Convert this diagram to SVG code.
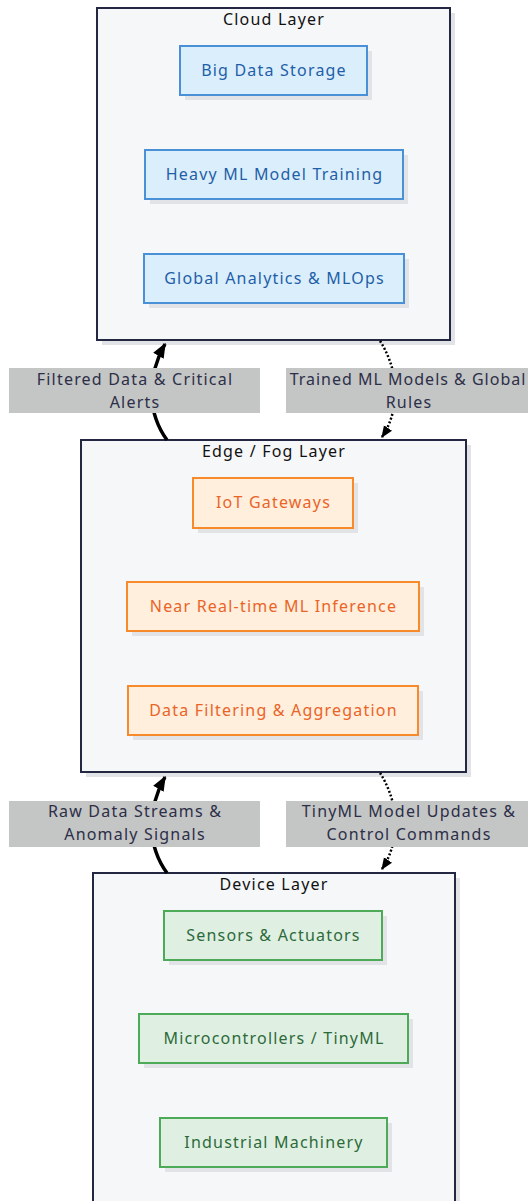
<svg xmlns="http://www.w3.org/2000/svg" width="528" height="1201" viewBox="0 0 528 1201">
  <defs>
    <style>
      .layer { fill: #f6f7f9; stroke: #232742; stroke-width: 2; }
      .shadow { fill: #e2e3e6; }
      text { font-family: "Noto Sans", "Open Sans", sans-serif; font-size: 16px; letter-spacing: 1.2px; text-anchor: middle; }
      g text.ltitle { fill: #111111; }
      .cloud rect.n { fill: #dbeefb; stroke: #4a90d6; stroke-width: 2; }
      .cloud text.ntext { fill: #1f5fa8; }
      .edge rect.n { fill: #ffefdc; stroke: #f78b2c; stroke-width: 2; }
      .edge text.ntext { fill: #ea6428; }
      .device rect.n { fill: #dff0e3; stroke: #4caa58; stroke-width: 2; }
      .device text.ntext { fill: #2d6a3a; }
      .lbl rect { fill: #c4c5c5; }
      .lbl text { fill: #2c2f48; }
      .lbl text.tight { letter-spacing: 1px; }
      .solid { fill: none; stroke: #000000; stroke-width: 3.5; }
      .dotted { fill: none; stroke: #000000; stroke-width: 2.5; stroke-dasharray: 2 2; }
    </style>
    <marker id="arrow" viewBox="0 0 10 10" refX="9" refY="5" markerWidth="12" markerHeight="12" orient="auto" markerUnits="userSpaceOnUse">
      <path d="M0,1 L10,5 L0,9 z" fill="#000000"/>
    </marker>
    <marker id="arrowBold" viewBox="0 0 10 10" refX="9" refY="5" markerWidth="15" markerHeight="15" orient="auto" markerUnits="userSpaceOnUse">
      <path d="M0,1 L10,5 L0,9 z" fill="#000000"/>
    </marker>
  </defs>

  <rect width="528" height="1201" fill="#ffffff"/>

  <!-- Cloud layer -->
  <g id="cloud-layer" class="cloud">
    <rect class="shadow" x="102" y="13" width="353" height="332"/>
    <rect class="layer" x="97" y="8" width="353" height="332"/>
    <text class="ltitle" x="274" y="25">Cloud Layer</text>
    <g id="big-data-storage">
      <rect class="shadow" x="185" y="51" width="187" height="49"/>
      <rect class="n" x="180" y="46" width="187" height="49"/>
      <text class="ntext" x="274" y="76">Big Data Storage</text>
    </g>
    <g id="heavy-ml-training">
      <rect class="shadow" x="150" y="155" width="258" height="49"/>
      <rect class="n" x="145" y="150" width="258" height="49"/>
      <text class="ntext" x="274.5" y="180">Heavy ML Model Training</text>
    </g>
    <g id="global-analytics">
      <rect class="shadow" x="149" y="259" width="260" height="49"/>
      <rect class="n" x="144" y="254" width="260" height="49"/>
      <text class="ntext" x="274.5" y="284">Global Analytics &amp; MLOps</text>
    </g>
  </g>

  <!-- Edge / Fog layer -->
  <g id="edge-layer" class="edge">
    <rect class="shadow" x="86" y="445" width="385" height="332"/>
    <rect class="layer" x="81" y="440" width="385" height="332"/>
    <text class="ltitle" x="274" y="457">Edge / Fog Layer</text>
    <g id="iot-gateways">
      <rect class="shadow" x="198" y="483" width="160" height="50"/>
      <rect class="n" x="193" y="478" width="160" height="50"/>
      <text class="ntext" x="273.5" y="508">IoT Gateways</text>
    </g>
    <g id="ml-inference">
      <rect class="shadow" x="132" y="587" width="292" height="49"/>
      <rect class="n" x="127" y="582" width="292" height="49"/>
      <text class="ntext" x="273.5" y="612">Near Real-time ML Inference</text>
    </g>
    <g id="data-filtering">
      <rect class="shadow" x="133" y="691" width="290" height="49"/>
      <rect class="n" x="128" y="686" width="290" height="49"/>
      <text class="ntext" x="273.5" y="716">Data Filtering &amp; Aggregation</text>
    </g>
  </g>

  <!-- Device layer -->
  <g id="device-layer" class="device">
    <rect class="shadow" x="98" y="878" width="362" height="340"/>
    <rect class="layer" x="93" y="873" width="362" height="340"/>
    <text class="ltitle" x="274" y="890">Device Layer</text>
    <g id="sensors-actuators">
      <rect class="shadow" x="169" y="916" width="218" height="49"/>
      <rect class="n" x="164" y="911" width="218" height="49"/>
      <text class="ntext" x="273.5" y="941">Sensors &amp; Actuators</text>
    </g>
    <g id="microcontrollers">
      <rect class="shadow" x="144" y="1019" width="269" height="49"/>
      <rect class="n" x="139" y="1014" width="269" height="49"/>
      <text class="ntext" x="274" y="1044">Microcontrollers / TinyML</text>
    </g>
    <g id="industrial-machinery">
      <rect class="shadow" x="165" y="1123" width="227" height="49"/>
      <rect class="n" x="160" y="1118" width="227" height="49"/>
      <text class="ntext" x="274" y="1148">Industrial Machinery</text>
    </g>
  </g>

  <!-- Connectors -->
  <g id="connectors">
    <path class="solid" d="M167,440 C148,414 146,378 165,344" marker-end="url(#arrowBold)"/>
    <path class="dotted" d="M380,341 C400,372 400,410 382,437" marker-end="url(#arrow)"/>
    <path class="solid" d="M167,873 C148,847 146,811 165,777" marker-end="url(#arrowBold)"/>
    <path class="dotted" d="M380,773 C400,804 400,842 382,869" marker-end="url(#arrow)"/>
  </g>

  <!-- Connector labels -->
  <g id="labels" class="lbl">
    <g id="label-filtered">
      <rect x="9" y="368" width="251" height="45"/>
      <text x="135" y="385">Filtered Data &amp; Critical</text>
      <text x="135" y="408">Alerts</text>
    </g>
    <g id="label-trained">
      <rect x="286" y="368" width="242" height="45"/>
      <text class="tight" x="408" y="385">Trained ML Models &amp; Global</text>
      <text x="409" y="408">Rules</text>
    </g>
    <g id="label-raw">
      <rect x="9" y="801" width="251" height="46"/>
      <text x="135" y="817">Raw Data Streams &amp;</text>
      <text x="135" y="840">Anomaly Signals</text>
    </g>
    <g id="label-tinyml">
      <rect x="286" y="801" width="242" height="46"/>
      <text x="409" y="817">TinyML Model Updates &amp;</text>
      <text x="409" y="840">Control Commands</text>
    </g>
  </g>
</svg>
